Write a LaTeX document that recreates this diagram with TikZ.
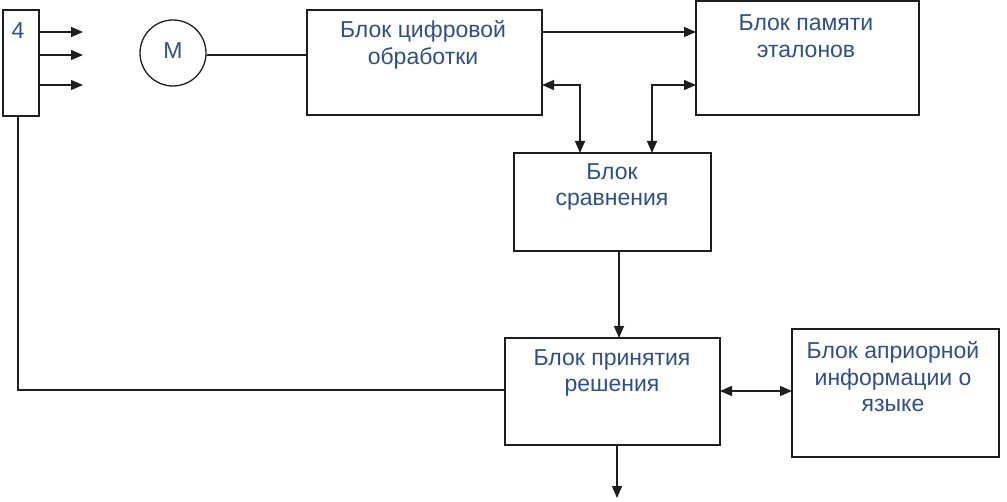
\documentclass[tikz,border=0pt]{standalone}
\usepackage{fontspec}
\setmainfont{Liberation Sans}
\usetikzlibrary{arrows.meta}
\definecolor{txtblue}{RGB}{45,80,140}
\definecolor{linec}{RGB}{30,30,30}
\begin{document}
\begin{tikzpicture}[x=1pt,y=-1pt,
  conn/.style={line width=1.3pt, draw=linec},
  box/.style={draw=linec, line width=1.3pt, inner sep=0pt, outer sep=0pt, anchor=north west},
  lbl/.style={text=txtblue, font=\fontsize{23}{26.5}\selectfont, align=center, inner sep=0pt},
  arr/.style={conn, -{Triangle[length=12pt,width=10pt]}},
  darr/.style={conn, {Triangle[length=12pt,width=10pt]}-{Triangle[length=12pt,width=10pt]}}]
\useasboundingbox (0,0) rectangle (1007,502);

% boxes
\node[box, minimum width=36pt, minimum height=106pt] (b4) at (3,10) {};
\node[box, minimum width=235pt, minimum height=105pt] (dig) at (307,10) {};
\node[box, minimum width=223pt, minimum height=114pt] (mem) at (696,1) {};
\node[box, minimum width=197pt, minimum height=98pt] (cmp) at (514,153) {};
\node[box, minimum width=215pt, minimum height=107pt] (dec) at (505,338) {};
\node[box, minimum width=207pt, minimum height=128pt] (apr) at (792,329) {};
\node[draw=linec, line width=1.3pt, circle, minimum size=66pt, inner sep=0pt] (m) at (173,53) {};

% texts
\node[lbl] (t4) at (18,31) {4};
\node[lbl] (tm) at (173,51) {M};
\node[lbl] (tdig) at (423,45) {Блок цифровой\\обработки};
\node[lbl] (tmem) at (806,36) {Блок памяти\\эталонов};
\node[lbl] (tcmp) at (612,187) {Блок\\сравнения};
\node[lbl] (tdec) at (612,373) {Блок принятия\\решения};
\node[lbl] (tapr) at (893,377) {Блок априорной\\информации о\\языке};

% free ends
\coordinate (o1) at (83,32);
\coordinate (o2) at (83,55);
\coordinate (o3) at (83,85);
\coordinate (out) at (617,498);

% connectors
\draw[arr] (b4.east |- o1) -- (o1);
\draw[arr] (b4.east |- o2) -- (o2);
\draw[arr] (b4.east |- o3) -- (o3);
\draw[conn] (m.east |- 0,55) -- (dig.west |- 0,55);
\draw[arr] (dig.east |- 0,32) -- (mem.west |- 0,32);
\draw[darr] (dig.east |- 0,85) -| (cmp.north -| 580,0);
\draw[darr] (mem.west |- 0,85) -| (cmp.north -| 652,0);
\draw[arr] (cmp.south -| 619,0) -- (dec.north -| 619,0);
\draw[darr] (dec.east |- 0,391) -- (apr.west |- 0,391);
\draw[arr] (dec.south -| out) -- (out);
\draw[conn] (b4.south -| 18,0) |- (dec.west |- 0,390);
\end{tikzpicture}
\end{document}
